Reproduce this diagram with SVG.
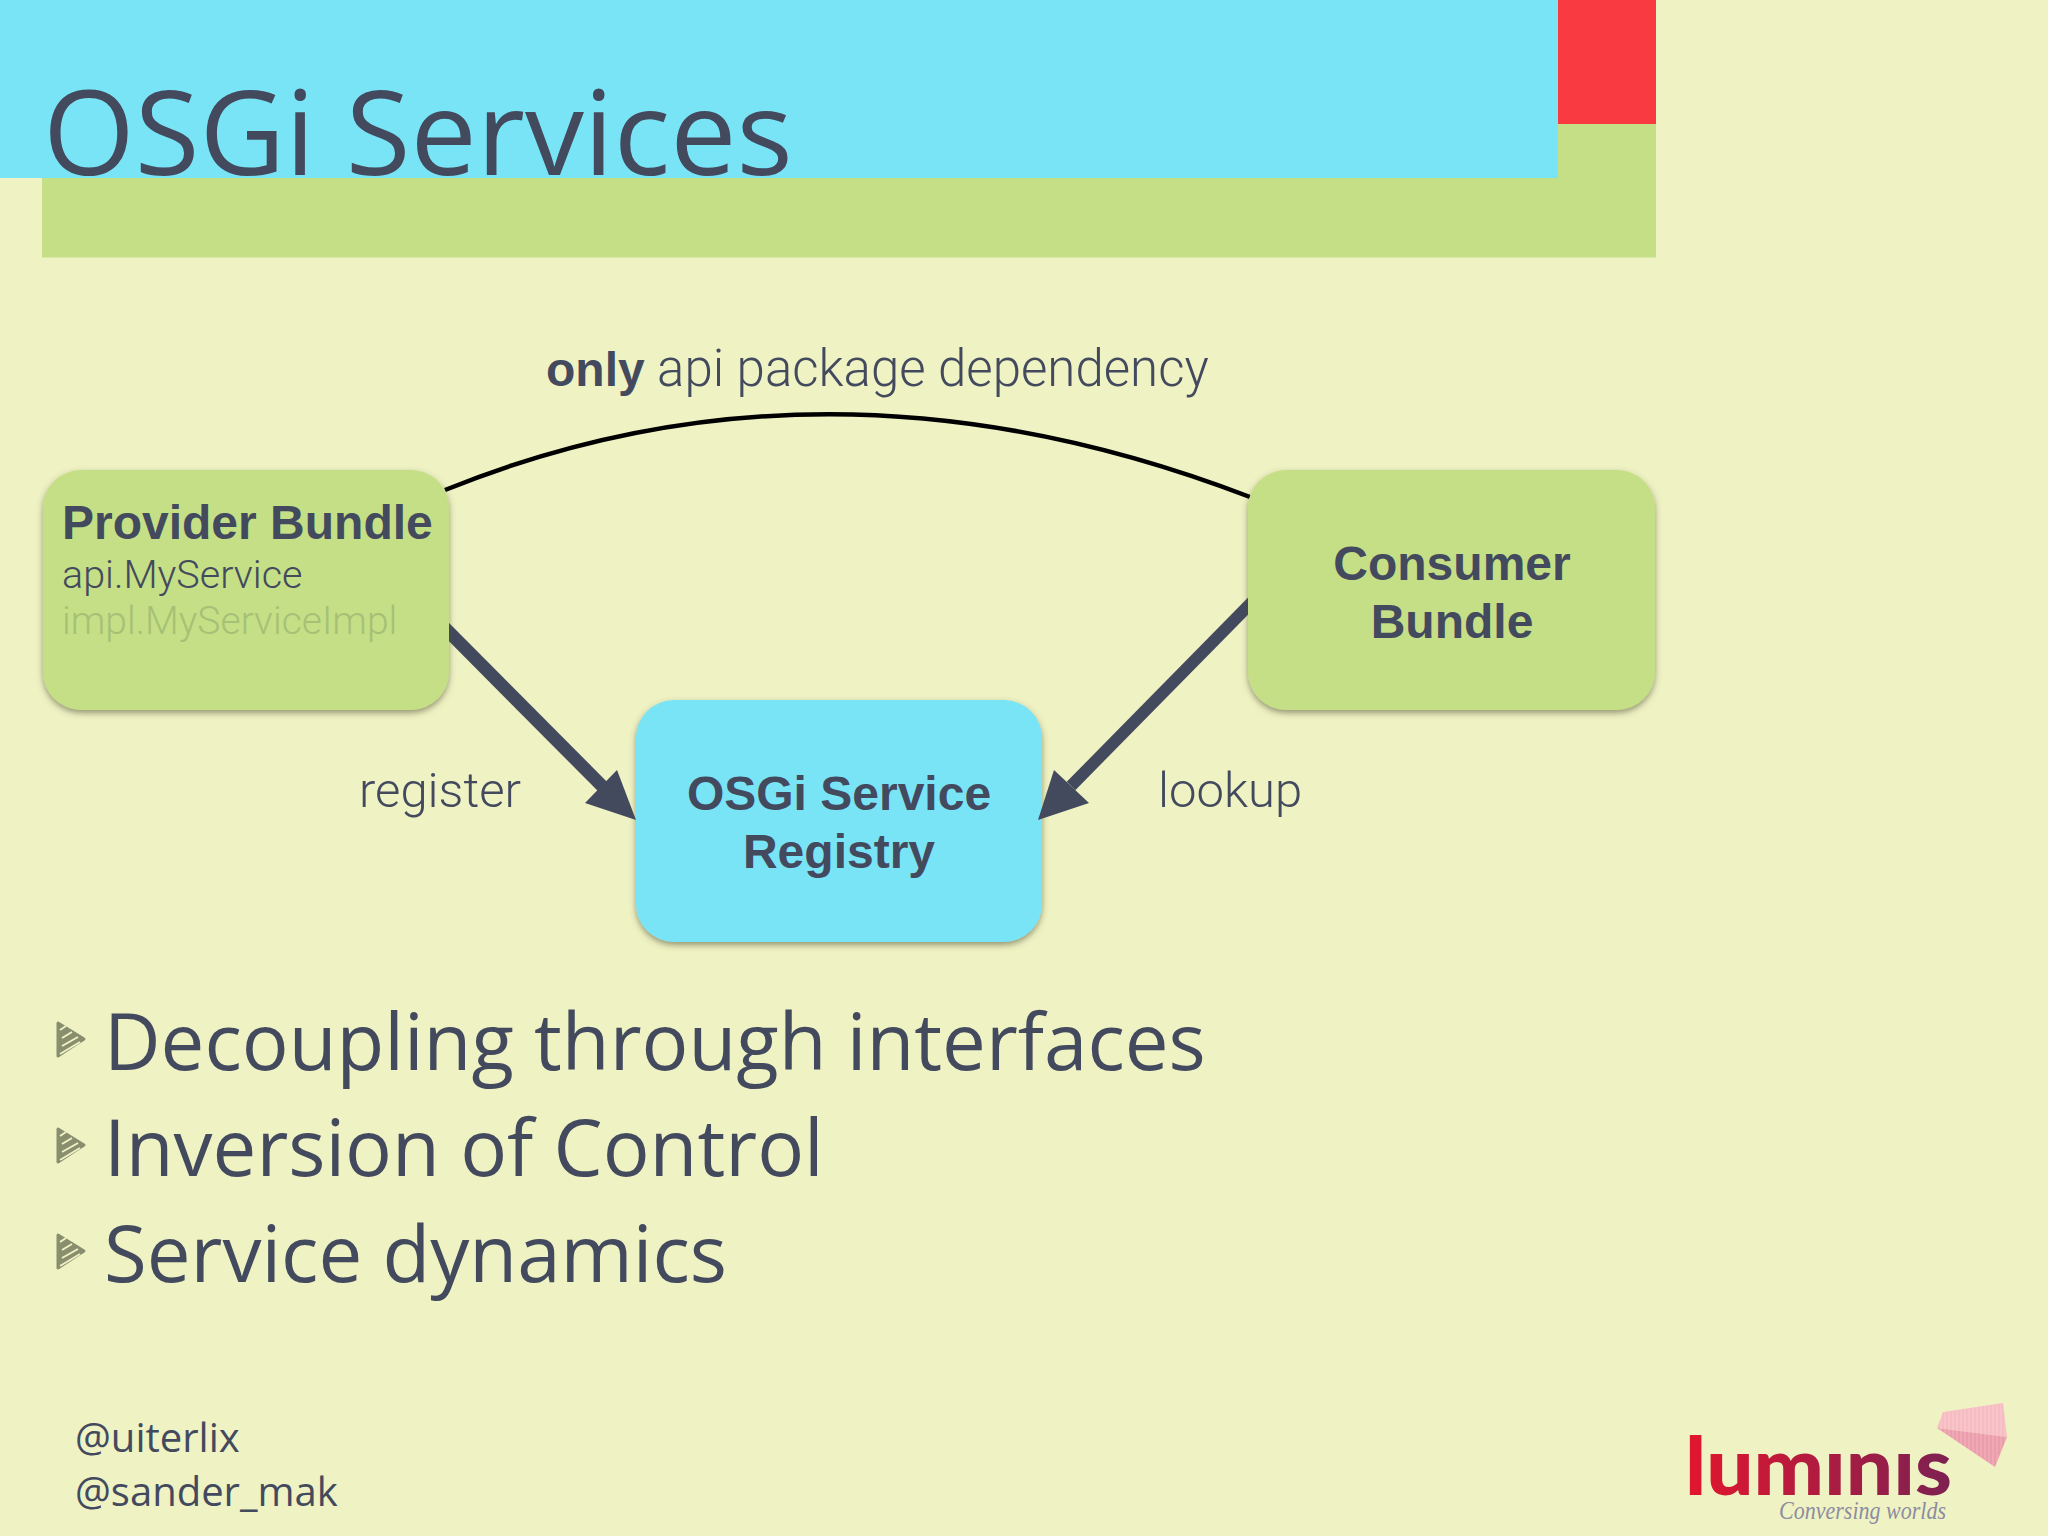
<svg xmlns="http://www.w3.org/2000/svg" width="2048" height="1536" viewBox="0 0 2048 1536">
<style>
.b{font-family:"Liberation Sans",Arial,sans-serif;font-weight:700;font-size:48px;fill:#434A5E}
.l{font-family:Roboto,"Liberation Sans",sans-serif;font-weight:300;font-size:49px;fill:#434A5E}
.s{font-size:39.500px}
.o{font-family:"Open Sans","Noto Sans",sans-serif;fill:#434A5E}
.m{text-anchor:middle}
.n{filter:url(#sh)}
.bl{font-size:78px}
.f{font-size:40px}
</style>
<defs>
<filter id="sh" x="-10%" y="-10%" width="120%" height="125%"><feDropShadow dx="0" dy="3" stdDeviation="3" flood-color="#4a4a30" flood-opacity="0.55"/></filter>
<linearGradient id="lg" x1="0" x2="1" y1="0" y2="0"><stop offset="0" stop-color="#E3162E"/><stop offset="1" stop-color="#7C2152"/></linearGradient>
<pattern id="ht" width="4" height="4" patternUnits="userSpaceOnUse"><rect width="2" height="4" fill="#ffffff" fill-opacity="0.12"/></pattern>
<g id="bu">
<path d="M58 1023 L84 1039 L58 1056 Z" fill="#888E6E" stroke="#888E6E" stroke-width="3" stroke-linejoin="round"/>
<path d="M60 1030 L66 1026 M62 1038 L72 1032 M62 1046 L78 1037 M60 1054 L80 1042" stroke="#EFF2C3" stroke-width="2" fill="none"/>
</g>
</defs>
<rect id="bg" width="2048" height="1536" fill="#EFF2C3"/>
<g id="header">
<rect x="42" y="100" width="1614" height="157.500" fill="#C5DF86"/>
<rect x="1558" y="0" width="98" height="124" fill="#F93A40"/>
<rect x="0" y="0" width="1558" height="178" fill="#7AE4F7"/>
<text class="o" x="43" y="175" font-size="118">OSGi Services</text>
</g>
<g id="service-registry">
<rect class="n" x="636" y="700" width="406" height="242" rx="38" fill="#7AE4F7"/>
<text class="b m" x="839" y="810">OSGi Service</text>
<text class="b m" x="839" y="868">Registry</text>
</g>
<g id="connectors">
<path d="M445 490 Q828 335 1250 497" fill="none" stroke="#000" stroke-width="4.500"/>
<path d="M440 623 L604 788" stroke="#434A5E" stroke-width="13" fill="none"/>
<path d="M636 820 L617 770 L585 803 Z" fill="#434A5E"/>
<path d="M1258 596 L1071 786" stroke="#434A5E" stroke-width="12" fill="none"/>
<path d="M1038 820 L1054 770 L1089 803 Z" fill="#434A5E"/>
</g>
<g id="provider-bundle">
<rect class="n" x="43" y="470" width="406" height="240" rx="38" fill="#C5DF86"/>
<text class="b" x="62" y="539">Provider Bundle</text>
<text class="l s" x="62" y="588">api.MyService</text>
<text class="l" x="62" y="634" style="font-size:39px;fill:#A6C176">impl.MyServiceImpl</text>
</g>
<g id="consumer-bundle">
<rect class="n" x="1248" y="470" width="407" height="240" rx="38" fill="#C5DF86"/>
<text class="b m" x="1452" y="580">Consumer</text>
<text class="b m" x="1452" y="638">Bundle</text>
</g>
<g id="labels">
<text class="l" x="546" y="386" style="font-size:51px"><tspan class="b">only</tspan> api package dependency</text>
<text class="l" x="359" y="807">register</text>
<text class="l" x="1158" y="807">lookup</text>
</g>
<g id="bullets">
<use href="#bu"/><use href="#bu" y="106"/><use href="#bu" y="212"/>
<text class="o bl" x="104" y="1070">Decoupling through interfaces</text>
<text class="o bl" x="104" y="1176">Inversion of Control</text>
<text class="o bl" x="104" y="1282">Service dynamics</text>
</g>
<g id="footer">
<text class="o f" x="75" y="1452">@uiterlix</text>
<text class="o f" x="75" y="1506">@sander_mak</text>
</g>
<g id="logo">
<path d="M1943 1412 L2003 1403 L2007 1437 L1937 1428 Z" fill="#F6BCC2"/>
<path d="M1937 1428 L2007 1437 L1995 1467 Z" fill="#EC9DAB"/>
<path d="M1943 1412 L2003 1403 L2007 1437 L1995 1467 L1937 1428 Z" fill="url(#ht)"/>
<text x="1685" y="1495" font-family="Lato,'Open Sans',sans-serif" font-weight="900" font-size="80" textLength="267" lengthAdjust="spacingAndGlyphs" fill="url(#lg)">lumınıs</text>
<text x="1779" y="1519" font-family="'Liberation Serif',serif" font-style="italic" font-size="26" textLength="167" lengthAdjust="spacingAndGlyphs" fill="#8C8CA0">Conversing worlds</text>
</g>
</svg>
